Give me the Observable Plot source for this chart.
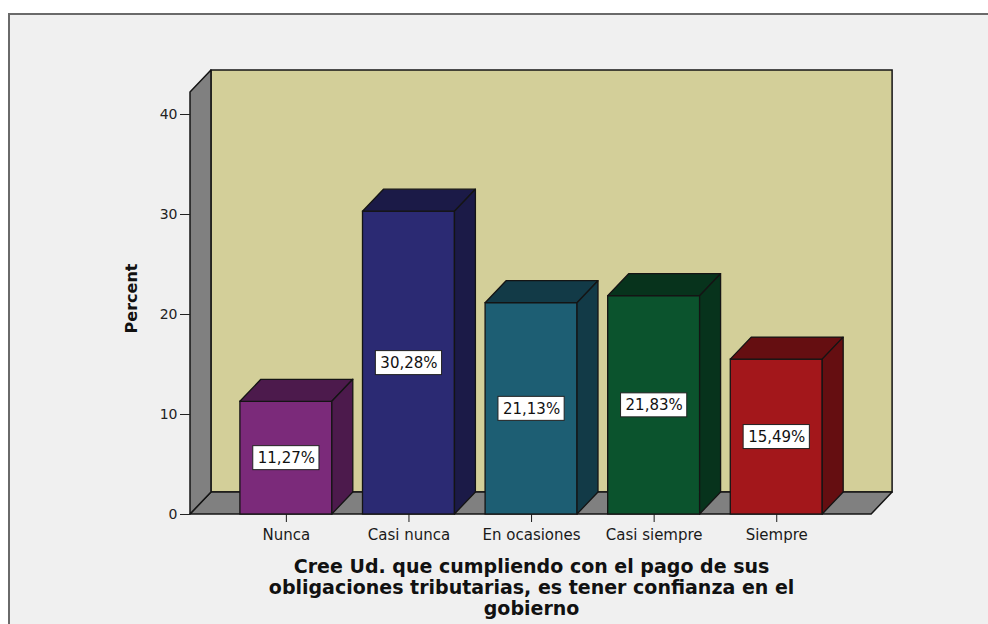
<!DOCTYPE html>
<html>
<head>
<meta charset="utf-8">
<script src="https://cdn.jsdelivr.net/npm/d3@7"></script>
<script src="https://cdn.jsdelivr.net/npm/@observablehq/plot@0.6"></script>
<style>
  html, body { margin: 0; padding: 0; background: #ffffff; overflow: hidden; width: 988px; height: 624px; }
  #frame { position: absolute; left: 8px; top: 13px; width: 1200px; height: 900px; border: 2px solid #6a6a6a; background: #f0f0f0; }
  #chart { position: absolute; left: 0; top: 0; }
</style>
</head>
<body>
<div id="frame"></div>
<div id="chart"></div>
<script>
// ---- data ----
const categories = ["Nunca", "Casi nunca", "En ocasiones", "Casi siempre", "Siempre"];
const percents = [11.27, 30.28, 21.13, 21.83, 15.49];
const valueLabels = ["11,27%", "30,28%", "21,13%", "21,83%", "15,49%"];
const yTicks = [0, 10, 20, 30, 40];
const yTitle = "Percent";
const xTitle = "Cree Ud. que cumpliendo con el pago de sus\nobligaciones tributarias, es tener confianza en el\ngobierno";

// ---- styles ----
const barColors = ["#7b2a7a", "#2b2a73", "#1d5e73", "#0b532d", "#a3171b"];
const wallColor = "#d3cf99";
const greyColor = "#808080";
const edge = "#141414";

// 3D geometry (in scale units)
const HW = 0.375;   // half bar width
const DX = 0.171;   // depth offset x
const DY = 2.2;     // depth offset y
const X0 = -0.782;  // left wall front
const X1 = 4.774;   // floor front right
const WALL = 42.2;  // wall height (front)

const shade = col => { const c = d3.rgb(col); return d3.rgb(c.r * 0.62, c.g * 0.62, c.b * 0.62).formatHex(); };

const bars = categories.map((c, i) => ({c, i, v: percents[i], label: valueLabels[i], color: barColors[i], shade: shade(barColors[i])}));
const tops = bars.flatMap(b => [
  {c: b.c, shade: b.shade, y: b.v, x1: b.i - HW, x2: b.i + HW},
  {c: b.c, shade: b.shade, y: b.v + DY, x1: b.i - HW + DX, x2: b.i + HW + DX}
]);
const sides = bars.flatMap(b => [
  {c: b.c, shade: b.shade, x: b.i + HW, y1: 0, y2: b.v},
  {c: b.c, shade: b.shade, x: b.i + HW + DX, y1: DY, y2: b.v + DY}
]);
const floor = [{y: 0, x1: X0, x2: X1}, {y: DY, x1: X0 + DX, x2: X1 + DX}];
const leftWall = [{x: X0, y1: 0, y2: WALL}, {x: X0 + DX, y1: DY, y2: WALL + DY}];
const backWall = [{x1: X0 + DX, x2: X1 + DX, y1: DY, y2: WALL + DY}];

const chart = Plot.plot({
  width: 988,
  height: 624,
  marginLeft: 190,
  marginRight: 95.9,
  marginTop: 14,
  marginBottom: 110,
  style: {fontFamily: "'DejaVu Sans', sans-serif", fontSize: "15px", background: "transparent", overflow: "visible", color: "#1a1a1a"},
  x: {domain: [X0, X1 + DX]},
  y: {domain: [0, 50]},
  color: {type: "identity"},
  marks: [
    Plot.rect(backWall, {x1: "x1", x2: "x2", y1: "y1", y2: "y2", fill: wallColor, stroke: edge, strokeWidth: 1.5}),
    Plot.areaX(floor, {y: "y", x1: "x1", x2: "x2", fill: greyColor, stroke: edge, strokeWidth: 1.5, curve: "linear"}),
    Plot.areaY(leftWall, {x: "x", y1: "y1", y2: "y2", fill: greyColor, stroke: edge, strokeWidth: 1.5, curve: "linear"}),
    Plot.rect(bars, {x1: d => d.i - HW, x2: d => d.i + HW, y1: () => 0, y2: "v", fill: "color", stroke: edge, strokeWidth: 1.3}),
    Plot.areaX(tops, {y: "y", x1: "x1", x2: "x2", z: "c", fill: "shade", stroke: edge, strokeWidth: 1.3, curve: "linear"}),
    Plot.areaY(sides, {x: "x", y1: "y1", y2: "y2", z: "c", fill: "shade", stroke: edge, strokeWidth: 1.3, curve: "linear"}),
    Plot.rect(bars, {x1: d => d.i - 0.27, x2: d => d.i + 0.27, y1: d => d.v / 2 - 1.2, y2: d => d.v / 2 + 1.2, fill: "white", stroke: "#222", strokeWidth: 1}),
    Plot.text(bars, {x: "i", y: d => d.v / 2, text: "label", fontSize: 15, fill: "#111"}),
    Plot.axisY({ticks: yTicks, tickSize: 10, tickPadding: 3, fontSize: 14, label: null, color: "#222"}),
    Plot.axisX({ticks: categories.map((c, i) => i), tickFormat: i => categories[i], tickSize: 8, tickPadding: 7, fontSize: 15, label: null, color: "#1a1a1a"}),
    Plot.text([yTitle], {y: () => 21.6, frameAnchor: "left", textAnchor: "middle", dx: -59, rotate: -90, fontSize: 16, fontWeight: "bold", fill: "#111"}),
    Plot.text([xTitle], {x: () => 2, frameAnchor: "bottom", lineAnchor: "top", dy: 44, fontSize: 19, fontWeight: "bold", lineHeight: 1.1, fill: "#111"})
  ]
});
document.getElementById("chart").appendChild(chart);
</script>
</body>
</html>
